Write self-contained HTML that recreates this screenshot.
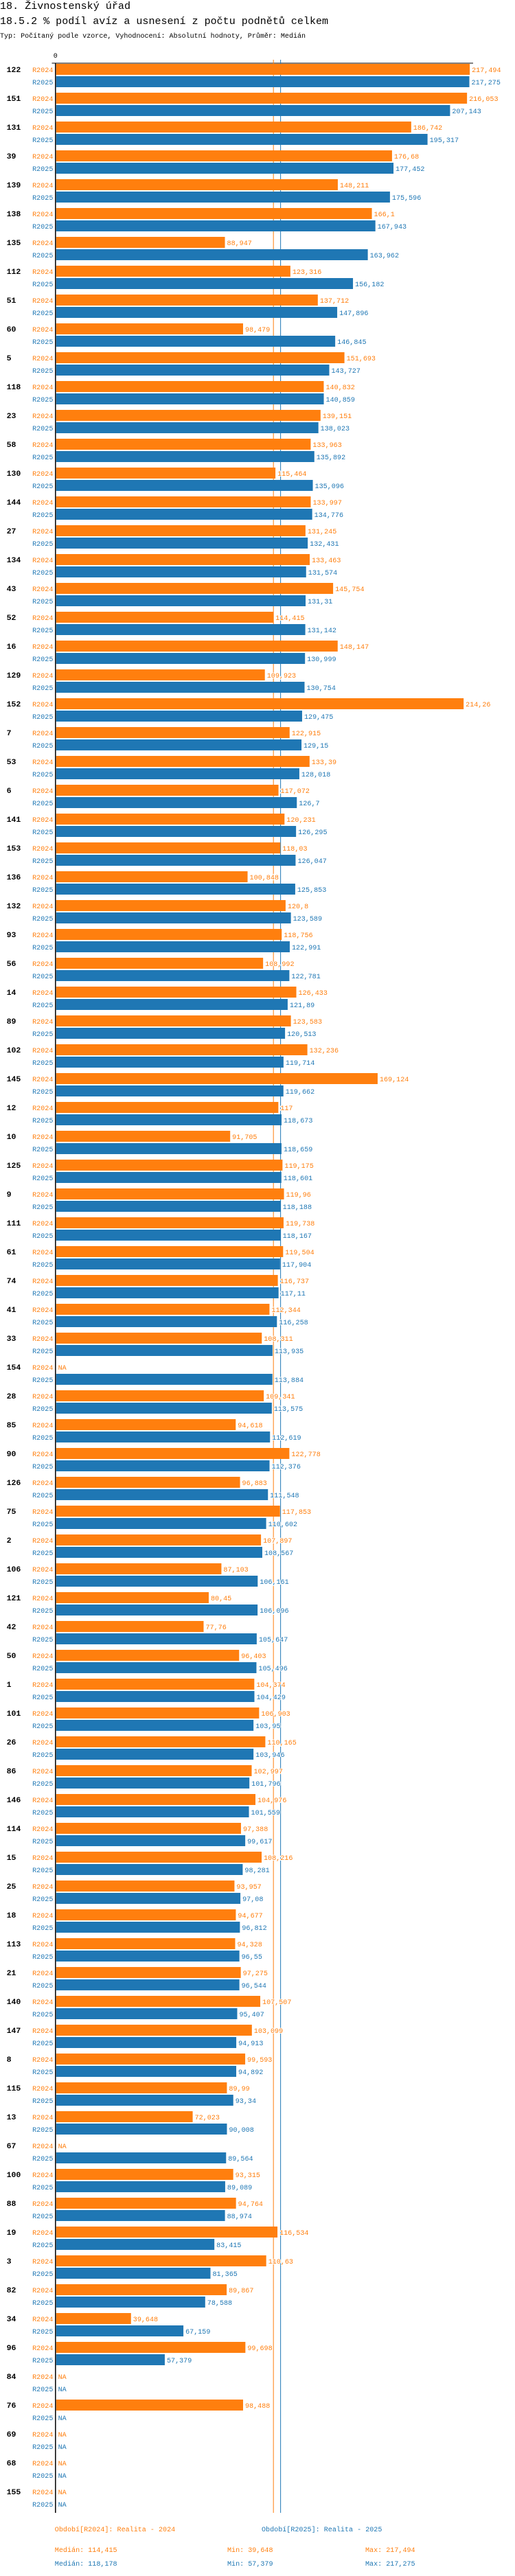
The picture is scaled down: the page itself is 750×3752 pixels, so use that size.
<!DOCTYPE html>
<html><head><meta charset="utf-8">
<style>
html,body{margin:0;padding:0;background:#fff;width:750px;height:3752px;overflow:hidden}
svg{display:block}
text{font-family:"Liberation Mono","DejaVu Sans Mono",monospace}
</style></head>
<body>
<svg id="chart" width="750" height="3752" xmlns="http://www.w3.org/2000/svg">
<text x="0" y="13" font-size="15" textLength="190" lengthAdjust="spacingAndGlyphs">18. Živnostenský úřad</text>
<text x="0" y="35" font-size="15" textLength="478" lengthAdjust="spacingAndGlyphs">18.5.2 % podíl avíz a usnesení z počtu podnětů celkem</text>
<text x="0" y="55" font-size="10" textLength="445" lengthAdjust="spacingAndGlyphs">Typ: Počítaný podle vzorce, Vyhodnocení: Absolutní hodnoty, Průměr: Medián</text>
<g id="plot"></g>
</svg>
<script>
const categories = ["122","151","131","39","139","138","135","112","51","60","5","118","23","58","130","144","27","134","43","52","16","129","152","7","53","6","141","153","136","132","93","56","14","89","102","145","12","10","125","9","111","61","74","41","33","154","28","85","90","126","75","2","106","121","42","50","1","101","26","86","146","114","15","25","18","113","21","140","147","8","115","13","67","100","88","19","3","82","34","96","84","76","69","68","155"];
const r2024 = [217.494,216.053,186.742,176.68,148.211,166.1,88.947,123.316,137.712,98.479,151.693,140.832,139.151,133.963,115.464,133.997,131.245,133.463,145.754,114.415,148.147,109.923,214.26,122.915,133.39,117.072,120.231,118.03,100.848,120.8,118.756,108.992,126.433,123.583,132.236,169.124,117,91.705,119.175,119.96,119.738,119.504,116.737,112.344,108.311,null,109.341,94.618,122.778,96.883,117.853,107.897,87.103,80.45,77.76,96.403,104.374,106.903,110.165,102.997,104.976,97.388,108.216,93.957,94.677,94.328,97.275,107.507,103.099,99.593,89.99,72.023,null,93.315,94.764,116.534,110.63,89.867,39.648,99.698,null,98.488,null,null,null];
const r2025 = [217.275,207.143,195.317,177.452,175.596,167.943,163.962,156.182,147.896,146.845,143.727,140.859,138.023,135.892,135.096,134.776,132.431,131.574,131.31,131.142,130.999,130.754,129.475,129.15,128.018,126.7,126.295,126.047,125.853,123.589,122.991,122.781,121.89,120.513,119.714,119.662,118.673,118.659,118.601,118.188,118.167,117.904,117.11,116.258,113.935,113.884,113.575,112.619,112.376,111.548,110.602,108.567,106.161,106.096,105.647,105.496,104.429,103.95,103.946,101.796,101.559,99.617,98.281,97.08,96.812,96.55,96.544,95.407,94.913,94.892,93.34,90.008,89.564,89.089,88.974,83.415,81.365,78.588,67.159,57.379,null,null,null,null,null];
const seriesNames = ["R2024","R2025"];
const medians = [114.415, 118.178];
const mins = [39.648, 57.379];
const maxs = [217.494, 217.275];
const legendTexts = ["Období[R2024]: Realita - 2024","Období[R2025]: Realita - 2025"];

const NS = "http://www.w3.org/2000/svg";
const plot = document.getElementById('plot');
const COLORS = ["#ff7f0e","#1f77b4"];
const X0 = 80.8, K = 2.774, TOP = 93, PITCH = 42;
function xs(v){ return X0 + v*K; }
function ys(i, s){ return TOP + i*PITCH + s*18; }
function fmt(v){ return v===null ? "NA" : String(v).replace('.', ','); }
function mk(tag, attrs, parent){
  const el = document.createElementNS(NS, tag);
  for (const k in attrs) el.setAttribute(k, attrs[k]);
  (parent||plot).appendChild(el);
  return el;
}
function txt(s, x, y, size, fill, anchor, cw, bold){
  const t = mk('text', {x:x, y:y, 'font-size':size, fill:fill, 'text-anchor':anchor||'start'});
  if (cw) { t.setAttribute('textLength', (s.length*cw).toFixed(1)); t.setAttribute('lengthAdjust','spacingAndGlyphs'); }
  if (bold) t.setAttribute('font-weight','bold');
  t.textContent = s;
  return t;
}
const bottom = TOP + categories.length*PITCH - 3;

let z = txt("0", X0, 84, 10, "#000", "middle", 6);


let ax = mk('line', {x1:75.5, y1:92, x2:689, y2:92, stroke:"#000", 'stroke-width':1});



medians.forEach((m, s) => {
  const l = mk('line', {x1:xs(m), x2:xs(m), y1:87, y2:bottom, stroke:COLORS[s], 'stroke-width':1});
  
  
});

const data = [r2024, r2025];
categories.forEach((c, i) => {
  const g = txt(c, 9.6, ys(i,0)+12, 11, "#000", "start", 6.9, true);
  
  
  for (let s = 0; s < 2; s++) {
    const v = data[s][i];
    const y = ys(i, s);
    const sl = txt(seriesNames[s], 77.4, y+12, 10, COLORS[s], "end", 6.06);
    
    
    let lx = 84.6;
    if (v !== null) {
      const r = mk('rect', {x:X0+1, y:y, width:Math.max(0, xs(v)-X0-1), height:16, fill:COLORS[s]});
      
      
      lx = xs(v) + 3;
    }
    const vl = txt(fmt(v), lx, y+12, 10, COLORS[s], "start", 6.05);
    vl.setAttribute('stroke', '#fff');
    vl.setAttribute('stroke-width', '2');
    vl.setAttribute('paint-order', 'stroke');
    
    
  }
});

let va = mk('line', {x1:80.8, y1:92, x2:80.8, y2:bottom, stroke:"#000", 'stroke-width':1.5});



const legX = [79.8, 381];
legendTexts.forEach((t, s) => {
  const e = txt(t, legX[s], 3687, 10, COLORS[s], "start", 6.05);
  
  
  const yy = 3717 + s*20;
  const a = txt("Medián: " + fmt(medians[s]), 79.8, yy, 10, COLORS[s], "start", 6.05);
  
  
  const b = txt("Min: " + fmt(mins[s]), 331, yy, 10, COLORS[s], "start", 6.05);
  
  
  const d = txt("Max: " + fmt(maxs[s]), 532, yy, 10, COLORS[s], "start", 6.05);
  
  
});
</script>
</body></html>
